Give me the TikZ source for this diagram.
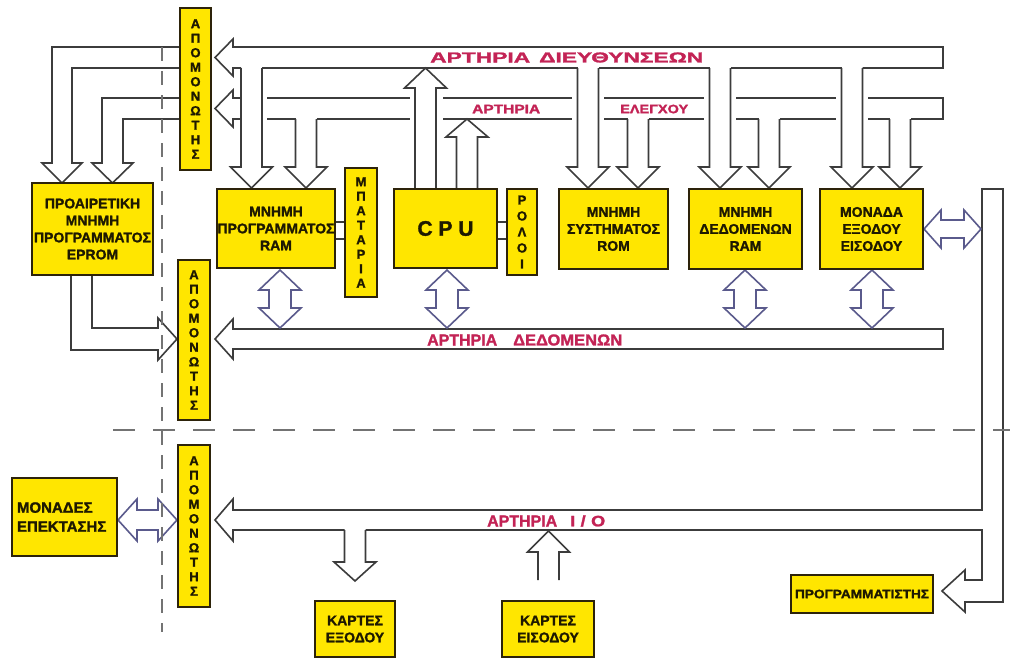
\documentclass[tikz,border=0pt]{standalone}
\usepackage{fontspec}
\setmainfont{Liberation Sans}[BoldFeatures={FakeBold=1.5}]
\usepackage{graphicx}
\definecolor{boxy}{RGB}{255,230,0}
\definecolor{boxline}{RGB}{45,35,10}
\definecolor{busgray}{RGB}{60,60,60}
\definecolor{biline}{RGB}{90,90,140}
\definecolor{lblred}{RGB}{195,35,85}
\definecolor{dashgray}{RGB}{115,115,115}
\definecolor{txt}{RGB}{30,25,0}
\tikzset{
 ybox/.style={draw=boxline, fill=boxy, line width=1.8pt, inner sep=0pt, text=txt, align=center, font=\bfseries\fontsize{14}{17}\selectfont},
 stackbox/.style={ybox, font=\bfseries\fontsize{13}{14.5}\selectfont},
 bus/.style={draw=busgray, line width=1.6pt, line join=miter, fill=white},
 busseg/.style={draw=busgray, line width=1.6pt},
 bidir/.style={draw=biline, line width=1.6pt, fill=white, line join=miter},
 lbl/.style={text=lblred, font=\bfseries, inner sep=0pt},
 vsep/.style={draw=dashgray, line width=2pt, dash pattern=on 14pt off 10pt},
 hsep/.style={draw=dashgray, line width=2.8pt, dash pattern=on 22pt off 18pt},
 link/.style={draw=busgray, line width=1.2pt},
}
\newcommand{\DArr}[4]{\path[bus] (#1-10.5,#2) -- (#1-10.5,#3) -- (#1-21,#3) -- (#1,#4) -- (#1+21,#3) -- (#1+10.5,#3) -- (#1+10.5,#2);}
\newcommand{\BiV}[1]{\path[bidir] (#1,270) -- (#1+21,290) -- (#1+11,290) -- (#1+11,308) -- (#1+21,308) -- (#1,328) -- (#1-21,308) -- (#1-11,308) -- (#1-11,290) -- (#1-21,290) -- cycle;}
\newcommand{\BiH}[6]{\path[bidir] (#1,#3) -- (#1+#4,#3-#5) -- (#1+#4,#3-#6) -- (#2-#4,#3-#6) -- (#2-#4,#3-#5) -- (#2,#3) -- (#2-#4,#3+#5) -- (#2-#4,#3+#6) -- (#1+#4,#3+#6) -- (#1+#4,#3+#5) -- cycle;}
\newcommand{\buslbl}[6]{\node[lbl, anchor=west] (#6) at (#1,#3) {\resizebox{\dimexpr #2pt-#1pt\relax}{#4pt}{#5}};}
\begin{document}
\begin{tikzpicture}[x=1pt,y=-1pt]
\useasboundingbox (0,0) rectangle (1010,659);
\fill[white] (0,0) rectangle (1010,659);

% address bus
\path[bus] (241,68) -- (233,68) -- (233,76) -- (215,57.5) -- (233,39) -- (233,47) -- (943,47) -- (943,68) -- (862.5,68);
\draw[busseg] (262,68) -- (577.5,68) (598.5,68) -- (709.5,68) (730.5,68) -- (841.5,68);

% control bus
\draw[busseg, line join=miter] (241,98) -- (233,98) -- (233,90) -- (215,108.5) -- (233,127) -- (233,119) -- (241,119);
\draw[busseg, line join=miter] (267,98) -- (410,98) (443,98) -- (572,98) (604,98) -- (704,98) (736,98) -- (836,98) (868,98) -- (943,98) -- (943,119) -- (910.5,119);
\draw[busseg] (267,119) -- (295.5,119) (316.5,119) -- (410,119) (443,119) -- (572,119) (604,119) -- (627.5,119) (648.5,119) -- (704,119) (736,119) -- (758.5,119) (779.5,119) -- (836,119) (868,119) -- (889.5,119);

% branches of address bus
\DArr{251.5}{68}{167}{188}
\DArr{588}{68}{167}{188}
\DArr{720}{68}{167}{188}
\DArr{852}{68}{167}{188}
% branches of control bus
\DArr{306}{119}{167}{188}
\DArr{638}{119}{167}{188}
\DArr{769}{119}{167}{188}
\DArr{900}{119}{167}{188}
% CPU arrows
\DArr{425.5}{189}{88}{68}
\DArr{467}{189}{137}{119}

% left of top isolator
\path[bus] (180,47) -- (52,47) -- (52,163) -- (42,163) -- (62,183) -- (82,163) -- (72,163) -- (72,68) -- (180,68);
\path[bus] (180,98) -- (102,98) -- (102,163) -- (92,163) -- (112.5,183) -- (133,163) -- (123,163) -- (123,119) -- (180,119);

% EPROM to data isolator
\path[bus] (71,275) -- (71,350) -- (158,350) -- (158,360) -- (177,339) -- (158,318) -- (158,328) -- (92,328) -- (92,275);

% data bus
\path[bus] (233,329) -- (943,329) -- (943,349) -- (233,349) -- (233,359) -- (215,339) -- (233,319) -- cycle;
\BiV{280}
\BiV{447}
\BiV{745}
\BiV{872}

% I/O bus
\path[bus] (344.5,530) -- (233,530) -- (233,541) -- (215,520) -- (233,499) -- (233,510) -- (982,510) -- (982,189) -- (1003,189) -- (1003,602) -- (965,602) -- (965,612) -- (942,591) -- (965,570) -- (965,580) -- (982,580) -- (982,530) -- (365.5,530);
\DArr{355}{530}{562}{581}
\DArr{548.5}{580}{552}{531}
\BiH{924}{981}{229}{17}{19}{9}
\BiH{118}{177}{520}{19}{21}{10}

% separators
\draw[vsep] (162,47) -- (162,632);
\draw[hsep] (113,430) -- (1010,430);

% boxes
\node[ybox, minimum width=121pt, minimum height=92pt] (eprom) at (92.5,229) {ΠΡΟΑΙΡΕΤΙΚΗ\\ΜΝΗΜΗ\\ΠΡΟΓΡΑΜΜΑΤΟΣ\\EPROM};
\node[stackbox, minimum width=31pt, minimum height=162pt] (iso1) at (195.5,89) {Α\\Π\\Ο\\Μ\\Ο\\Ν\\Ω\\Τ\\Η\\Σ};
\node[stackbox, minimum width=32pt, minimum height=160pt] (iso2) at (194,340) {Α\\Π\\Ο\\Μ\\Ο\\Ν\\Ω\\Τ\\Η\\Σ};
\node[stackbox, minimum width=32pt, minimum height=162pt] (iso3) at (194,526) {Α\\Π\\Ο\\Μ\\Ο\\Ν\\Ω\\Τ\\Η\\Σ};
\node[ybox, minimum width=118pt, minimum height=79pt] (ramp) at (276,228.5) {ΜΝΗΜΗ\\ΠΡΟΓΡΑΜΜΑΤΟΣ\\RAM};
\node[stackbox, minimum width=32pt, minimum height=129pt] (batt) at (361,232.5) {Μ\\Π\\Α\\Τ\\Α\\Ρ\\Ι\\Α};
\node[ybox, minimum width=103pt, minimum height=79pt, font=\bfseries\fontsize{21}{24}\selectfont] (cpu) at (445.5,228.5) {C P U};
\node[stackbox, font=\bfseries\fontsize{13}{16}\selectfont, minimum width=30pt, minimum height=86pt] (clock) at (522,232) {Ρ\\Ο\\Λ\\Ο\\Ι};
\node[ybox, minimum width=109pt, minimum height=80pt] (rom) at (613.5,229) {ΜΝΗΜΗ\\ΣΥΣΤΗΜΑΤΟΣ\\ROM};
\node[ybox, minimum width=113pt, minimum height=80pt] (dram) at (745.5,229) {ΜΝΗΜΗ\\ΔΕΔΟΜΕΝΩΝ\\RAM};
\node[ybox, minimum width=103pt, minimum height=80pt] (iou) at (871.5,229) {ΜΟΝΑΔΑ\\ΕΞΟΔΟΥ\\ΕΙΣΟΔΟΥ};
\node[ybox, minimum width=105pt, minimum height=78pt, text width=95pt, inner xsep=5pt, align=left, font=\bfseries\fontsize{15}{19}\selectfont] (ext) at (64.5,517) {ΜΟΝΑΔΕΣ\\ΕΠΕΚΤΑΣΗΣ};
\node[ybox, minimum width=80pt, minimum height=56pt] (kout) at (355,629) {ΚΑΡΤΕΣ\\ΕΞΟΔΟΥ};
\node[ybox, minimum width=92pt, minimum height=56pt] (kin) at (548,629) {ΚΑΡΤΕΣ\\ΕΙΣΟΔΟΥ};
\node[ybox, minimum width=142pt, minimum height=38pt] (prog) at (862,594) {\resizebox{134pt}{8.5pt}{ΠΡΟΓΡΑΜΜΑΤΙΣΤΗΣ}};

% links to battery and clock
\draw[link] (ramp.east |- 0,222) -- (batt.west |- 0,222);
\draw[link] (ramp.east |- 0,239) -- (batt.west |- 0,239);
\draw[link] (cpu.east |- 0,222) -- (clock.west |- 0,222);
\draw[link] (cpu.east |- 0,239) -- (clock.west |- 0,239);

% bus labels
\buslbl{430}{530}{57.5}{10}{ΑΡΤΗΡΙΑ}{la1}
\buslbl{539}{703}{57.5}{10}{ΔΙΕΥΘΥΝΣΕΩΝ}{la2}
\buslbl{472}{540}{109}{8.5}{ΑΡΤΗΡΙΑ}{lc1}
\buslbl{620}{688}{109}{8.5}{ΕΛΕΓΧΟΥ}{lc2}
\buslbl{427}{497}{340}{11}{ΑΡΤΗΡΙΑ}{ld1}
\buslbl{513}{622}{340}{11}{ΔΕΔΟΜΕΝΩΝ}{ld2}
\buslbl{487}{557}{521}{11}{ΑΡΤΗΡΙΑ}{lio1}
\buslbl{570}{605}{521}{11}{I\kern3pt/\kern3pt O}{lio2}
\end{tikzpicture}
\end{document}
